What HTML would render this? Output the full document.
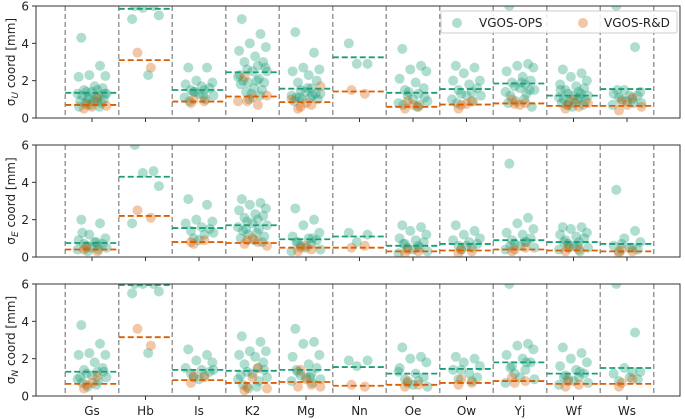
<!DOCTYPE html>
<html><head><meta charset="utf-8"><style>
body{margin:0;background:#fff}
svg{display:block;font-family:"DejaVu Sans","Liberation Sans",sans-serif}
</style></head><body>
<svg id="chart" width="685" height="419" viewBox="0 0 685 419"></svg>
<script>
const categories=["Gs","Hb","Is","K2","Mg","Nn","Oe","Ow","Yj","Wf","Ws"];
const yTicks=[0,2,4,6];
const panelLabels=["U","E","N"];
const jitter=[-.2,.15,-.05,.25,-.25,.05,.2,-.15,.1,-.1,0,.27,-.27,.12,-.18,.08,-.08,.22,-.22,.03,.18,-.12,-.02,.14,-.24,.24,-.06,.1];
const meanOpsU=[1.35,5.85,1.5,2.45,1.57,3.25,1.35,1.55,1.85,1.2,1.55];
const meanRdU=[0.7,3.1,0.88,1.15,0.85,1.42,0.6,0.72,0.78,0.65,0.65];
const meanOpsE=[0.75,4.3,1.55,1.7,0.95,1.1,0.6,0.7,0.9,0.8,0.7];
const meanRdE=[0.4,2.2,0.8,0.75,0.5,0.5,0.3,0.35,0.4,0.35,0.3];
const meanOpsN=[1.3,5.95,1.4,1.35,1.4,1.55,1.2,1.45,1.8,1.2,1.5];
const meanRdN=[0.65,3.15,0.85,0.7,0.75,0.55,0.6,0.7,0.8,0.65,0.65];
const opsU=[[4.3,2.8,2.3,2.25,2.2,1.7,1.6,1.5,1.5,1.4,1.4,1.3,1.3,1.2,1.2,1.1,1.0,1.0,0.9,0.9,0.8,0.8,0.7,0.6,0.6,1.3,1.1,0.9],[6,6,5.9,5.5,5.3,2.3],[2.7,2.7,2.0,1.9,1.8,1.7,1.6,1.5,1.5,1.4,1.3,1.2,1.1,1.0,0.9,1.2,1.4],[5.3,4.5,4.0,3.8,3.6,3.3,3.0,3.0,2.8,2.6,2.5,2.5,2.2,2.1,2.0,2.0,1.9,1.9,1.8,1.6,1.5,1.4,1.3,1.2,2.3,2.7,1.0],[4.6,3.5,2.7,2.6,2.5,2.3,2.0,1.9,1.6,1.5,1.4,1.3,1.2,1.2,1.1,1.1,1.0,1.0,0.9,1.6,1.3,1.1],[4.0,2.9,2.9],[3.7,2.8,2.6,2.5,2.1,1.9,1.6,1.5,1.3,1.2,1.0,0.9,0.8,0.7,0.7,0.6,1.4,1.1],[2.8,2.7,2.4,2.0,2.0,1.8,1.6,1.5,1.4,1.3,1.2,1.2,1.0,0.9,0.8],[6,2.9,2.8,2.7,2.5,2.2,2.0,1.9,1.8,1.7,1.6,1.5,1.4,1.3,1.2,1.0,0.9,0.6,0.8,1.9,1.5],[2.6,2.4,2.2,2.0,1.8,1.7,1.6,1.5,1.4,1.3,1.2,1.2,1.1,1.1,1.0,1.0,0.9,0.9,0.8,0.8,0.7,0.7,0.6,1.3,1.5],[6,3.8,1.5,1.4,1.3,1.2,1.2,1.1,1.0,1.0,0.9,0.8,0.7,0.8,1.5]];
const rdU=[[0.5,1.05,0.7,0.6,0.65],[3.5,2.7],[0.8,0.9,1.0],[2.2,0.7,0.9,1.1,1.2,0.9],[0.5,0.7,0.6,0.8,1.7,1.0],[1.5,1.3],[0.5,0.6,0.9,0.7],[0.5,0.9,0.7,0.75],[1.0,0.8,0.75,0.7],[0.5,0.6,0.7,1.0,0.8],[0.4,1.1,0.9,0.7,0.6]];
const opsE=[[2.0,1.8,1.2,1.0,0.9,0.8,0.7,0.7,0.6,0.6,0.5,0.5,0.4,0.4,1.3,0.8,0.3],[6,4.6,4.5,3.8,1.8],[3.1,2.8,2.0,1.9,1.8,1.6,1.5,1.4,1.2,1.0,0.9,1.3],[3.1,2.9,2.8,2.6,2.5,2.3,2.2,2.1,2.0,1.9,1.8,1.7,1.6,1.5,1.4,1.3,1.2,1.1,1.0,0.9,0.8,1.5],[2.6,2.0,1.7,1.3,1.1,1.0,0.9,0.8,0.7,0.6,0.5,0.4,0.3,1.0,0.8],[1.3,1.2,0.8],[1.7,1.6,1.4,1.2,1.0,0.9,0.8,0.7,0.6,0.5,0.4,0.3,0.2,0.5,0.7],[1.7,1.4,1.2,1.0,0.9,0.8,0.7,0.6,0.5,0.4,0.6],[5.0,2.1,1.8,1.5,1.3,1.2,1.0,0.9,0.8,0.7,0.6,0.5,0.4,0.8,0.6],[1.6,1.6,1.5,1.3,1.2,1.1,1.0,0.9,0.8,0.7,0.6,0.5,0.4,0.3,0.8,0.6,0.5],[3.6,1.4,1.0,0.8,0.6,0.5,0.4,0.3,0.5,0.7]];
const rdE=[[0.4,0.3,0.5],[2.5,2.1],[0.8,0.9,0.7],[0.7,0.8,0.9,1.0,0.6],[0.3,0.4,0.5,0.6],[0.5,0.6],[0.2,0.3,0.4],[0.2,0.3,0.4],[0.3,0.5,0.4],[0.3,0.4,0.5],[0.2,0.3,0.4]];
const opsN=[[3.8,2.8,2.3,2.2,2.2,1.8,1.5,1.4,1.3,1.2,1.1,1.0,0.9,0.8,0.7,0.6,0.5,1.3,1.0],[6,6,6,5.6,5.5,2.3],[2.5,2.2,1.9,1.8,1.5,1.4,1.3,1.2,1.1,1.0,0.9,1.4],[3.2,2.9,2.4,2.4,2.2,2.1,1.8,1.7,1.5,1.3,1.2,1.0,0.9,0.8,0.6,0.5,0.4,1.4,1.1],[3.6,2.9,2.8,2.2,2.1,1.7,1.5,1.3,1.2,1.1,1.0,0.9,0.8,0.7,1.4,1.0],[1.9,1.9,1.6],[2.6,2.1,2.0,1.8,1.5,1.2,1.0,0.9,0.8,0.7,0.6,0.5,1.3],[2.1,2.0,1.8,1.6,1.4,1.2,1.0,0.9,0.8,1.4],[6,2.8,2.7,2.5,2.2,2.0,1.8,1.6,1.4,1.2,1.0,0.9,0.7,1.8,1.5],[2.6,2.3,2.0,1.8,1.6,1.4,1.2,1.1,1.0,0.9,0.8,0.7,0.6,1.3,1.0],[6,3.4,1.5,1.3,1.2,1.0,0.9,0.8,1.3]];
const rdN=[[0.4,1.05,0.6,0.7],[3.6,2.7],[0.7,1.0,1.1],[0.3,1.5,0.5,1.0,0.4],[0.5,0.6,1.4,0.9,0.5],[0.6,0.5],[0.5,0.6,0.8],[0.6,0.7,0.9],[1.0,0.8,0.7],[0.5,0.6,0.8],[0.5,0.9,0.7]];

const panels=[{top:6,bot:118,ops:opsU,rd:rdU,mo:meanOpsU,mr:meanRdU},{top:145,bot:257,ops:opsE,rd:rdE,mo:meanOpsE,mr:meanRdE},{top:284,bot:396,ops:opsN,rd:rdN,mo:meanOpsN,mr:meanRdN}];
const L=36,R=680,X0=92,DX=53.5;
const GREEN="#1b9e77",ORANGE="#d95f02";
const NS="http://www.w3.org/2000/svg";
const svg=document.getElementById('chart');
function mk(t,a,p){const e=document.createElementNS(NS,t);for(const k in a)e.setAttribute(k,a[k]);(p||svg).appendChild(e);return e;}
const xs=i=>X0+DX*i;
panels.forEach((P,pi)=>{
  const ys=v=>P.bot-(P.bot-P.top)*v/6;
  const g=mk('g',{});
  
  
  const cid='clip'+pi;
  const cp=mk('clipPath',{id:cid},g);mk('rect',{x:L,y:P.top,width:R-L,height:P.bot-P.top},cp);
  const plot=mk('g',{'clip-path':'url(#'+cid+')'},g);
  categories.forEach((c,i)=>{
    [i-0.5,i+0.5].forEach(s=>{
      const ln=mk('line',{x1:xs(s),x2:xs(s),y1:P.top,y2:P.bot,stroke:'#999',"stroke-width":1.5,"stroke-dasharray":"5,3"},plot);
      
      
    });
    P.ops[i].forEach((v,k)=>{
      const d=mk('circle',{cx:xs(i+jitter[k%jitter.length]),cy:ys(v),r:5,fill:GREEN,"fill-opacity":0.35},plot);
      
      
    });
    P.rd[i].forEach((v,k)=>{
      const d=mk('circle',{cx:xs(i+jitter[(k+7)%jitter.length]),cy:ys(v),r:5,fill:ORANGE,"fill-opacity":0.35},plot);
      
      
    });
    const m1=mk('line',{x1:xs(i-0.5),x2:xs(i+0.5),y1:ys(P.mo[i]),y2:ys(P.mo[i]),stroke:GREEN,"stroke-width":1.8,"stroke-dasharray":"6,3"},plot);
    
    
    const m2=mk('line',{x1:xs(i-0.5),x2:xs(i+0.5),y1:ys(P.mr[i]),y2:ys(P.mr[i]),stroke:ORANGE,"stroke-width":1.8,"stroke-dasharray":"6,3"},plot);
    
    
    mk('line',{x1:xs(i),x2:xs(i),y1:P.bot,y2:P.bot+4,stroke:'#333',"stroke-width":1},g);
    if(pi===2){
      const t=mk('text',{x:xs(i),y:415,"text-anchor":"middle","font-size":12,fill:'#222'},g);
      t.textContent=c;
      
      
    }
  });
  const fr=mk('rect',{x:L,y:P.top,width:R-L,height:P.bot-P.top,fill:'none',stroke:'#333',"stroke-width":1},g);
  
  
  yTicks.forEach(v=>{
    mk('line',{x1:L-4,x2:L,y1:ys(v),y2:ys(v),stroke:'#333'},g);
    const t=mk('text',{x:L-7,y:ys(v)+4.5,"text-anchor":"end","font-size":12,fill:'#222'},g);
    t.textContent=v;
    
    
  });
  const yc=(P.top+P.bot)/2;
  const yl=mk('text',{x:0,y:0,transform:`translate(15,${yc}) rotate(-90)`,"text-anchor":"middle","font-size":12,fill:'#222'},g);
  yl.innerHTML='σ<tspan font-size="9" dy="3" font-style="italic">'+panelLabels[pi]+'</tspan><tspan dy="-3"> coord [mm]</tspan>';
  
  
});
const lg=mk('g',{});


mk('rect',{x:441,y:11,width:236,height:22,rx:2,fill:'#fff',"fill-opacity":0.85,stroke:'#ccc'},lg);
mk('circle',{cx:457,cy:23,r:5,fill:GREEN,"fill-opacity":0.35},lg);
const t1=mk('text',{x:479,y:27,"font-size":12,fill:'#222'},lg);t1.textContent='VGOS-OPS';
mk('circle',{cx:583,cy:23,r:5,fill:ORANGE,"fill-opacity":0.35},lg);
const t2=mk('text',{x:604,y:27,"font-size":12,fill:'#222'},lg);t2.textContent='VGOS-R&D';
</script>
</body></html>
